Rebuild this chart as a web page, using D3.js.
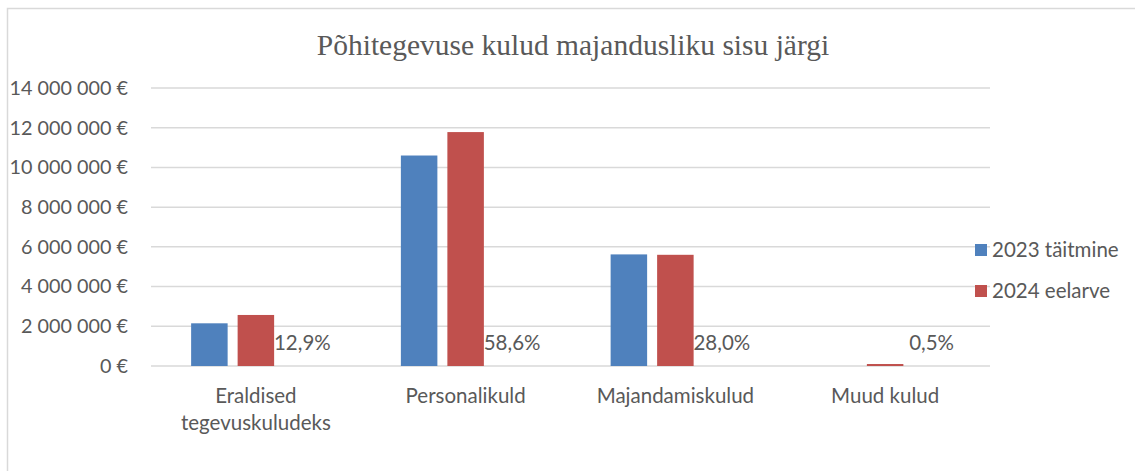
<!DOCTYPE html>
<html>
<head>
<meta charset="utf-8">
<script src="https://cdn.jsdelivr.net/npm/d3@7"></script>
<style>
  body { margin: 0; background: #fff; }
  text { fill: #595959; }
</style>
</head>
<body>
<script>
// data
var categories = ["Eraldised tegevuskuludeks", "Personalikuld", "Majandamiskulud", "Muud kulud"];
var categoryLines = [["Eraldised", "tegevuskuludeks"], ["Personalikuld"], ["Majandamiskulud"], ["Muud kulud"]];
var seriesNames = ["2023 täitmine", "2024 eelarve"];
var values2023 = [2150000, 10600000, 5620000, 0];
var values2024 = [2570000, 11780000, 5600000, 100000];
var shareLabels = ["12,9%", "58,6%", "28,0%", "0,5%"];
var yTicks = [0, 2000000, 4000000, 6000000, 8000000, 10000000, 12000000, 14000000];
var colors = ["#4f81bd", "#c0504d"];

var W = 1135, H = 471;
var plotLeft = 151, plotRight = 990, plotTop = 88, plotBottom = 366;
var labelFont = "Lato, 'Open Sans', sans-serif";
var labelSize = "20.5px";

var svg = d3.select("body").append("svg")
    .attr("width", W)
    .attr("height", H);

// chart area border (only left/top visible in the crop)
svg.append("rect")
    .attr("x", 7.5).attr("y", 8.5)
    .attr("width", W + 20).attr("height", H + 20)
    .attr("fill", "none")
    .attr("stroke", "#d9d9d9")
    .attr("stroke-width", 1.5);

svg.append("text")
    .attr("x", 573)
    .attr("y", 55)
    .attr("text-anchor", "middle")
    .style("font-family", "'Liberation Serif', 'Times New Roman', serif")
    .style("font-size", "29.5px")
    .text("Põhitegevuse kulud majandusliku sisu järgi");

var x0 = d3.scaleBand()
    .domain(categories)
    .range([plotLeft, plotRight]);

// 3 slots per category: two series + empty slot carrying the share label
var x1 = d3.scaleBand()
    .domain(["a", "b", "share"])
    .range([0, x0.bandwidth()])
    .paddingInner(0.215)
    .paddingOuter(0.863);

var y = d3.scaleLinear()
    .domain([0, 14000000])
    .range([plotBottom, plotTop]);

var fmt = function (v) {
  return d3.format(",")(v).replace(/,/g, " ") + " €";
};

// gridlines
svg.append("g")
  .selectAll("line")
  .data(yTicks)
  .enter().append("line")
    .attr("x1", plotLeft).attr("x2", plotRight)
    .attr("y1", function (d) { return y(d); })
    .attr("y2", function (d) { return y(d); })
    .attr("stroke", "#d9d9d9")
    .attr("stroke-width", 1.5);

// y axis labels
var yAxis = svg.append("g")
    .attr("transform", "translate(" + (plotLeft - 23) + ",0)")
    .call(d3.axisLeft(y).tickValues(yTicks).tickFormat(fmt).tickSize(0).tickPadding(0));
yAxis.select(".domain").remove();
yAxis.selectAll("text")
    .style("font-family", labelFont)
    .style("font-size", "19.8px")
    .attr("fill", "#595959");

// bars
var groups = svg.append("g")
  .selectAll("g")
  .data(categories)
  .enter().append("g")
    .attr("transform", function (d) { return "translate(" + x0(d) + ",0)"; });

groups.append("rect")
    .attr("x", x1("a"))
    .attr("width", x1.bandwidth())
    .attr("y", function (d, i) { return y(values2023[i]); })
    .attr("height", function (d, i) { return plotBottom - y(values2023[i]); })
    .attr("fill", colors[0]);

groups.append("rect")
    .attr("x", x1("b"))
    .attr("width", x1.bandwidth())
    .attr("y", function (d, i) { return y(values2024[i]); })
    .attr("height", function (d, i) { return plotBottom - y(values2024[i]); })
    .attr("fill", colors[1]);

groups.append("text")
    .attr("x", x1("share") + x1.bandwidth() / 2)
    .attr("y", plotBottom - 16)
    .attr("text-anchor", "middle")
    .style("font-family", labelFont)
    .style("font-size", labelSize)
    .text(function (d, i) { return shareLabels[i]; });

// category labels
var xl = groups.append("text")
    .attr("text-anchor", "middle")
    .style("font-family", labelFont)
    .style("font-size", labelSize);
xl.selectAll("tspan")
  .data(function (d, i) { return categoryLines[i]; })
  .enter().append("tspan")
    .attr("x", x0.bandwidth() / 2)
    .attr("y", function (d, j) { return 403 + j * 27; })
    .text(function (d) { return d; });

// legend
var legend = svg.append("g")
  .selectAll("g")
  .data(seriesNames)
  .enter().append("g")
    .attr("transform", function (d, i) { return "translate(975," + (244 + i * 41) + ")"; });
legend.append("rect")
    .attr("width", 12).attr("height", 12)
    .attr("fill", function (d, i) { return colors[i]; });
legend.append("text")
    .attr("x", 17)
    .attr("y", 13)
    .style("font-family", labelFont)
    .style("font-size", labelSize)
    .text(function (d) { return d; });
</script>
</body>
</html>
